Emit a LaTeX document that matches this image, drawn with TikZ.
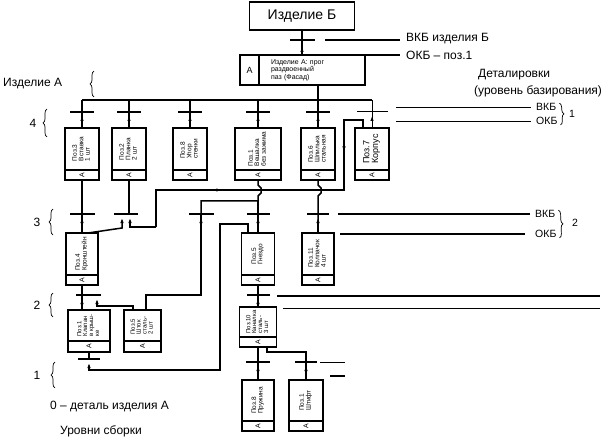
\documentclass[tikz,border=0pt]{standalone}
\usepackage{fontspec}
\setmainfont{Liberation Sans}
\usetikzlibrary{positioning,arrows.meta,calc,decorations.pathreplacing}

\newcommand{\vtext}[1]{\rotatebox{90}{\begin{tabular}{@{}l@{}}#1\end{tabular}}}
\renewcommand{\arraystretch}{0.85}

\begin{document}
\begin{tikzpicture}[x=1pt, y=-1pt,
    part/.style={draw, line width=1.6pt, inner sep=1pt, outer sep=0pt, font=\fontsize{6.5}{7.5}\selectfont},
    acell/.style={draw, line width=1.6pt, inner sep=0pt, outer sep=0pt, minimum height=10pt, font=\fontsize{7}{8}\selectfont},
    bar/.style={fill, inner sep=0pt, outer sep=0pt, minimum height=2.6pt},
    link/.style={line width=1.5pt},
    thinlink/.style={line width=0.9pt},
    up/.style={link, -{Latex[length=5pt, width=3.5pt]}},
    lbl/.style={inner sep=0pt, font=\fontsize{12}{14}\selectfont},
    small/.style={inner sep=0pt, font=\fontsize{10.5}{12}\selectfont},
    level/.style={decorate, decoration={brace, amplitude=4pt}, line width=0.7pt}]

  \useasboundingbox (0,0) rectangle (604,438);

  % product B and assembly A
  \node[part, minimum width=105, minimum height=28, font=\fontsize{14}{16}\selectfont] (prodB) at (302,16) {Изделие Б};
  \node[acell, minimum width=19, minimum height=30, font=\fontsize{9}{10}\selectfont] (prodAa) at (249.5,70) {А};
  \node[part, right=0pt of prodAa, minimum width=106, minimum height=30, text width=82pt, align=left, font=\fontsize{7}{7.6}\selectfont] (prodA) {Изделие А: прог\\раздвоенный\\паз (Фасад)};
  \node[bar, minimum width=25] (bar-top) at (302,40) {};

  % level 4
  \foreach \n/\x/\w/\txt in {p3/82/34/{Поз.3\\Вставка\\1 шт}, p2/129/34/{Поз.2\\Планка\\2 шт}, p8/190/34/{Поз.8\\Упор\\стенки}, p1/258/46/{Поз.1\\Вешалка\\без зажима}, p6/318/34/{Поз.6\\Шпилька\\стальная}} {
    \node[part, minimum width=\w, minimum height=42] (\n) at (\x,149) {\vtext{\txt}};
    \node[acell, minimum width=\w, below=0pt of \n] (\n a) {\rotatebox{90}{А}};
    \node[bar, minimum width=24] (bar-\n) at (\x,112) {};
  }
  \node[part, minimum width=34, minimum height=42, font=\fontsize{9}{10}\selectfont] (p7) at (372,149) {\vtext{Поз.7\\Корпус}};
  \node[acell, minimum width=34, below=0pt of p7] (p7a) {\rotatebox{90}{А}};
  \node[bar, minimum width=31, minimum height=1pt] (bar-p7) at (372,112) {};

  % level 3
  \node[part, minimum width=32, minimum height=42] (p4) at (82,254) {\vtext{Поз.4\\Кронштейн}};
  \node[acell, minimum width=32, below=0pt of p4] (p4a) {\rotatebox{90}{А}};
  \node[part, minimum width=33, minimum height=42] (p5) at (258,254) {\vtext{Поз.5\\Гнездо}};
  \node[acell, minimum width=33, below=0pt of p5] (p5a) {\rotatebox{90}{А}};
  \node[part, minimum width=32, minimum height=42] (p11) at (318,254) {\vtext{Поз.11\\Колпачок\\4 шт}};
  \node[acell, minimum width=32, below=0pt of p11] (p11a) {\rotatebox{90}{А}};
  \node[bar, minimum width=25] (bar-A) at (82,214) {};
  \node[bar, minimum width=24] (bar-B) at (126,214) {};
  \node[bar, minimum width=25] (bar-C) at (201,214) {};
  \node[bar, minimum width=23] (bar-D) at (258,214) {};
  \node[bar, minimum width=22] (bar-E) at (318,214) {};

  % level 2
  \node[part, minimum width=42, minimum height=31, font=\fontsize{6}{7}\selectfont] (p1L) at (89,325.5) {\vtext{Поз.1\\Клапан\\в крыш-\\ке}};
  \node[acell, minimum width=42, minimum height=11, below=0pt of p1L] (p1La) {\rotatebox{90}{А}};
  \node[part, minimum width=37, minimum height=31, font=\fontsize{6}{7}\selectfont] (p5L) at (142.5,325.5) {\vtext{Поз.5\\Шток\\сталь-\\2 шт}};
  \node[acell, minimum width=37, minimum height=11, below=0pt of p5L] (p5La) {\rotatebox{90}{А}};
  \node[part, minimum width=37, minimum height=30, font=\fontsize{6}{7}\selectfont] (p10) at (258,322) {\vtext{Поз.10\\Каналка\\сталь-\\3 шт}};
  \node[acell, minimum width=37, below=0pt of p10] (p10a) {\rotatebox{90}{А}};
  \node[bar, minimum width=25] (bar-L) at (88,295) {};
  \node[bar, minimum width=23] (bar-F) at (258,295) {};

  % level 1
  \node[part, minimum width=32, minimum height=41] (p8b) at (258,400.5) {\vtext{Поз.8\\Пружина}};
  \node[acell, minimum width=32, below=0pt of p8b] (p8ba) {\rotatebox{90}{А}};
  \node[part, minimum width=34, minimum height=41] (p9) at (306,400.5) {\vtext{Поз.1\\Штифт}};
  \node[acell, minimum width=34, below=0pt of p9] (p9a) {\rotatebox{90}{А}};
  \node[bar, minimum width=22] (bar-K) at (89,359) {};
  \node[bar, minimum width=24] (bar-G) at (258,362) {};
  \node[bar, minimum width=22] (bar-H) at (306,362) {};

  % top links
  \draw[link] (prodB.south) -- (prodB.south |- prodA.north);
  \draw[up] (prodB.south |- prodA.north) -- ([yshift=-7pt]bar-top.center);
  \coordinate (bus) at (0,100);
  \draw[link] (prodA.south -| p6) -- (p6.north);
  \draw[link] (p3.north |- bus) -- (p7.north |- bus);
  \foreach \n in {p3,p2,p8,p1} \draw[link] (\n.north |- bus) -- (\n.north);
  \foreach \n in {p3,p2,p8,p1,p6} \draw[up] (\n.north) -- ([yshift=-4pt]bar-\n.center);
  \draw[thinlink] (p7.north |- bus) -- (p7.north);
  \draw[thinlink, -{Latex[length=5pt, width=3.5pt]}] (p7.north) -- ([yshift=-4pt]bar-p7.center);

  % level 4 -> level 3
  \draw[link] (p3a.south) -- (p4.north);
  \draw[up] (p4.north) -- ([yshift=-4pt]bar-A.center);
  \draw[link] (p2a.south) -- (p2a.south |- bar-B.center);
  \draw[up] ([xshift=6pt]p4.north) -- ([xshift=-4pt,yshift=-14pt]bar-B.center) -- ([xshift=-4pt,yshift=-4pt]bar-B.center);

  % route from Поз.7
  \coordinate (r1) at (344,120);
  \coordinate (r2) at (344,190);
  \coordinate (r3) at (156,190);
  \coordinate (r4) at (156,227);
  \draw[link] ([xshift=-9pt]p7.north) |- (r1) -- (r2) -- (r3) -- (r4);
  \draw[up] (r4) -| ([xshift=4pt,yshift=-4pt]bar-B.center);
  \draw[up] ($(r1)!0.3!(r2)$) -- ($(r1)!0.45!(r2)$);
  \draw[up] ($(r2)!0.62!(r3)$) -- ($(r2)!0.7!(r3)$);

  % Поз.1 and Поз.6 down to level 3
  \coordinate (split) at (0,201);
  \draw[link] (p1a.south) -- ++(0,5) -- ++(3,3) -- ++(0,5) -- ++(-3,3) -- (p1a.south |- split) -| (bar-C.center);
  \draw[link] (p1a.south |- split) -- (p5.north);
  \draw[up] (p5.north) -- ([yshift=-4pt]bar-D.center);
  \draw[link] (p6a.south) -- ++(0,5) -- ++(3,3) -- ++(0,5) -- ++(-3,3) -- (p11.north);
  \draw[up] (p11.north) -- ([yshift=-4pt]bar-E.center);

  % level 3 -> level 2
  \draw[link] ([xshift=3.5pt]p5L.north) |- (bar-C.center |- bar-L.center) -- (bar-C.center);
  \draw[up] ([yshift=-14pt]bar-C.center) -- ([yshift=-4pt]bar-C.center);
  \draw[link] (p4a.south) -- (p4a.south |- p1L.north);
  \draw[up] (p4a.south |- p1L.north) -- ++(0,-11);
  \draw[up] ([xshift=-9.5pt]p5L.north) -- ++(0,-4) -| ([xshift=9pt,yshift=-4pt]bar-L.center);
  \draw[link] (p5a.south) -- (p10.north);
  \draw[up] (p10.north) -- ([yshift=-4pt]bar-F.center);

  % loop to Поз.1 below
  \coordinate (r5) at (220,370);
  \draw[up] ([xshift=-10pt]p5.north) -- ++(0,-9) -| (r5) -| ([yshift=-4pt]bar-K.center);
  \draw[link] (p1La.south) -- (p1La.south |- bar-K.center);

  % level 2 -> level 1
  \draw[link] (p10a.south) -- (p8b.north);
  \draw[up] (p8b.north) -- ([yshift=-4pt]bar-G.center);
  \draw[link] ([xshift=9pt]p10a.south) -- ++(0,5) -| (p9.north);
  \draw[up] (p9.north) -- ([yshift=-4pt]bar-H.center);

  % ВКБ / ОКБ
  \node[lbl, anchor=west] (vkbB) at (406,39) {ВКБ изделия Б};
  \node[lbl, anchor=west] (okbB) at (406,55) {ОКБ – поз.1};
  \coordinate (vBs) at (325,40);
  \draw[link] (vBs) -- ([xshift=-6pt]vkbB.west |- vBs);
  \draw[link] (prodA.north east) -- ([xshift=-6pt]okbB.west);

  \node[small, anchor=west] (vkb1) at (536,107) {ВКБ};
  \node[small, anchor=west] (okb1) at (536,121) {ОКБ};
  \coordinate (v1s) at (396,107);
  \coordinate (o1s) at (396,121);
  \draw[thinlink] (v1s) -- ([xshift=-5pt]vkb1.west);
  \draw[thinlink] (o1s) -- ([xshift=-5pt]okb1.west);
  \draw[level] ([xshift=3pt]vkb1.north east) -- ([xshift=3pt]okb1.south east);
  \node[small, anchor=west] (n1) at (569,114) {1};

  \node[small, anchor=west] (vkb2) at (535,214) {ВКБ};
  \node[small, anchor=west] (okb2) at (535,234) {ОКБ};
  \coordinate (v2s) at (338,214);
  \coordinate (o2s) at (340,234);
  \draw[link] (v2s) -- ([xshift=-5pt]vkb2.west);
  \draw[link] (o2s) -- ([xshift=-10pt]okb2.west);
  \draw[level] ([xshift=3pt]vkb2.north east) -- ([xshift=3pt]okb2.south east);
  \node[small, anchor=west] (n2) at (572,223) {2};

  % level lines
  \draw[link] (277,296) -- (600,296);
  \draw[thinlink] (283,308) -- (600,308);
  \draw[thinlink] (320,362) -- (345,362);
  \draw[link] (330,376) -- (345,376);

  % left side
  \node[lbl, anchor=west] (prodAlbl) at (3,84) {Изделие А};
  \draw[level] (94,97) -- (94,71);
  \node[lbl] (lv4) at (33,123) {4};
  \draw[level] ([xshift=14pt,yshift=-14pt]lv4.center) -- ([xshift=14pt,yshift=14pt]lv4.center);
  \node[lbl] (lv3) at (37,222) {3};
  \draw[level] ([xshift=16pt,yshift=-13pt]lv3.center) -- ([xshift=16pt,yshift=13pt]lv3.center);
  \node[lbl] (lv2) at (37,305) {2};
  \draw[level] ([xshift=16pt,yshift=-12pt]lv2.center) -- ([xshift=16pt,yshift=12pt]lv2.center);
  \node[lbl] (lv1) at (37,375) {1};
  \draw[level] ([xshift=18pt,yshift=-13pt]lv1.center) -- ([xshift=18pt,yshift=13pt]lv1.center);
  \node[lbl, anchor=west] (zeroLbl) at (50,407) {0 – деталь изделия А};
  \node[lbl, anchor=west] (levelsLbl) at (60,431) {Уровни сборки};
  \node[lbl, anchor=west] (detLbl) at (478,75) {Деталировки};
  \node[lbl, anchor=west] (baseLbl) at (474,91) {(уровень базирования)};
\end{tikzpicture}
\end{document}
